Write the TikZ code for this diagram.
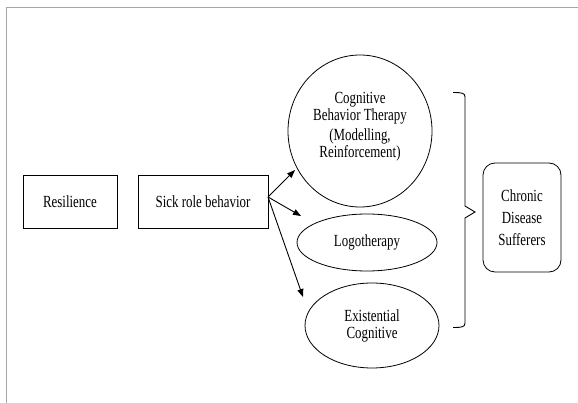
\documentclass[tikz,border=0pt]{standalone}
\usepackage{fontspec}
\setmainfont{Liberation Serif}[FakeStretch=0.76]
\usetikzlibrary{shapes.geometric,arrows.meta}
\begin{document}
\begin{tikzpicture}[x=1pt,y=-1pt,
  txt/.style={font=\fontsize{17}{17}\selectfont, align=center, inner sep=0pt},
  sqbox/.style={draw=black, line width=0.8pt, minimum height=53pt, inner sep=0pt, font=\fontsize{17}{17}\selectfont},
  ell/.style={ellipse, draw=black, line width=0.8pt, inner sep=0pt},
  arr/.style={line width=0.9pt, -{Triangle[length=8pt,width=6pt]}},
  frame/.style={draw=gray!70, line width=0.8pt}]
\useasboundingbox (0,0) rectangle (578,403);
\fill[white] (0,0) rectangle (578,403);
% frame lines
\coordinate (f1) at (6,403);
\coordinate (f2) at (6,7);
\coordinate (f3) at (578,7);
\draw[frame] (f1) -- (f2) -- (f3);
% left boxes
\node[sqbox, minimum width=94pt] (res) at (70,201.5) {Resilience};
\node[sqbox, minimum width=130pt] (sick) at (203,201.5) {Sick role behavior};
% ellipses
\node[ell, minimum width=144pt, minimum height=152pt] (cbt) at (360,131) {};
\node[txt] (cbttext) at (360,127) {Cognitive\\Behavior Therapy\\[3pt](Modelling,\\Reinforcement)};
\node[ell, minimum width=140pt, minimum height=57pt, txt, draw=black, line width=0.8pt] (logo) at (367,242.5) {Logotherapy};
\node[ell, minimum width=134pt, minimum height=85pt, txt, draw=black, line width=0.8pt] (exist) at (372,325.5) {Existential\\Cognitive};
% arrows
\coordinate (src) at (268,197);
\coordinate (a1) at (295,170);
\coordinate (a2) at (301,216);
\coordinate (a3) at (303,297);
\draw[arr] (src) -- (a1);
\draw[arr] (src) -- (a2);
\draw[arr] (src) -- (a3);
% brace
\coordinate (b0) at (453,92.5);
\coordinate (b1) at (465,97);
\coordinate (b2) at (465,206);
\coordinate (bt) at (475,212);
\coordinate (b3) at (465,218);
\coordinate (b4) at (465,323);
\coordinate (b5) at (453,327.5);
\draw[line width=0.9pt] (b0) .. controls (462,92.5) and (465,93) .. (b1) -- (b2) -- (bt) -- (b3) -- (b4) .. controls (465,327) and (462,327.5) .. (b5);
% chronic box
\node[draw=black, line width=0.8pt, rounded corners=12pt, minimum width=78pt, minimum height=109pt, txt, font=\fontsize{17}{22}\selectfont] (chronic) at (522,217.5) {Chronic\\Disease\\Sufferers};
\end{tikzpicture}
\end{document}
